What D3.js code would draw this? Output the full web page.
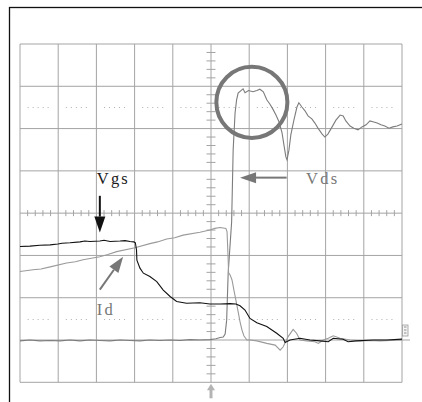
<!DOCTYPE html>
<html><head><meta charset="utf-8">
<script src="https://cdn.jsdelivr.net/npm/d3@7"></script>
<style>body{margin:0;background:#fff}svg{display:block}</style>
</head><body>
<script>
// time in divisions (0..10), value in divisions (-4..4, 0 = centre line)
const vds = [[0,-3.02],[0.26,-3.00],[0.52,-3.02],[0.79,-3.01],[1.05,-3.02],[1.31,-3.00],[1.57,-3.02],[1.83,-3.00],[2.09,-3.01],[2.36,-3.02],[2.62,-3.00],[2.88,-3.01],[3.14,-3.02],[3.40,-3.00],[3.66,-3.01],[3.93,-3.00],[4.19,-3.01],[4.45,-2.99],[4.71,-3.00],[4.97,-2.99],[5.13,-2.97],[5.24,-2.94],[5.32,-2.93],[5.37,-2.86],[5.41,-2.53],[5.45,-1.41],[5.54,-0.21],[5.58,1.49],[5.63,2.37],[5.67,2.68],[5.71,2.84],[5.80,2.91],[5.84,2.94],[5.89,2.85],[5.98,2.90],[6.10,2.87],[6.20,2.90],[6.28,2.93],[6.37,2.87],[6.46,2.68],[6.54,2.58],[6.62,2.46],[6.70,2.32],[6.78,2.16],[6.86,1.90],[6.91,1.61],[6.96,1.33],[6.99,1.26],[7.04,1.49],[7.09,1.85],[7.17,2.20],[7.25,2.51],[7.30,2.61],[7.38,2.51],[7.46,2.42],[7.54,2.30],[7.64,2.23],[7.72,2.13],[7.80,2.01],[7.91,1.87],[7.98,1.80],[8.06,1.87],[8.17,2.04],[8.27,2.20],[8.38,2.32],[8.46,2.30],[8.53,2.18],[8.64,2.06],[8.74,2.01],[8.85,1.97],[8.95,2.04],[9.06,2.09],[9.16,2.18],[9.24,2.16],[9.35,2.13],[9.45,2.09],[9.55,2.06],[9.66,2.01],[9.76,2.04],[9.87,2.06],[10.00,2.11]];
const id = [[0,-1.38],[0.34,-1.34],[0.55,-1.32],[0.79,-1.27],[1.22,-1.18],[1.45,-1.15],[1.65,-1.10],[2.09,-1.03],[2.30,-0.98],[2.53,-0.91],[3.01,-0.82],[3.40,-0.72],[3.60,-0.68],[3.84,-0.61],[4.05,-0.58],[4.27,-0.52],[4.71,-0.45],[4.97,-0.40],[5.10,-0.36],[5.24,-0.34],[5.39,-0.36],[5.42,-0.44],[5.45,-1.11],[5.46,-1.41],[5.50,-1.46],[5.55,-1.58],[5.60,-1.82],[5.65,-2.05],[5.71,-2.33],[5.76,-2.57],[5.81,-2.76],[5.86,-2.90],[5.94,-3.00],[6.02,-3.00],[6.20,-3.02],[6.46,-3.08],[6.68,-3.12],[6.81,-3.24],[6.89,-3.16],[7.02,-2.92],[7.15,-2.75],[7.24,-2.84],[7.33,-3.00],[7.51,-3.02],[7.72,-3.04],[7.81,-3.08],[7.94,-3.00],[8.07,-2.96],[8.20,-2.90],[8.38,-2.96],[8.64,-3.00],[8.90,-3.02],[9.16,-3.01],[9.42,-3.02],[9.69,-3.01],[10.00,-3.00]];
const vgs = [[0,-0.79],[0.26,-0.78],[0.52,-0.76],[0.79,-0.75],[0.99,-0.73],[1.10,-0.71],[1.31,-0.70],[1.57,-0.68],[1.70,-0.66],[1.83,-0.67],[2.09,-0.66],[2.20,-0.64],[2.36,-0.67],[2.62,-0.66],[2.75,-0.65],[2.88,-0.67],[2.98,-0.68],[3.02,-0.70],[3.05,-0.87],[3.06,-1.11],[3.14,-1.30],[3.23,-1.42],[3.40,-1.50],[3.58,-1.62],[3.75,-1.82],[3.93,-1.97],[4.10,-2.09],[4.36,-2.13],[4.71,-2.12],[4.97,-2.15],[5.24,-2.15],[5.50,-2.14],[5.65,-2.15],[5.76,-2.19],[5.89,-2.29],[6.02,-2.49],[6.20,-2.59],[6.46,-2.68],[6.72,-2.84],[6.89,-2.96],[6.94,-3.06],[7.07,-3.00],[7.33,-2.96],[7.59,-3.00],[7.85,-3.02],[8.07,-3.04],[8.20,-2.96],[8.46,-2.98],[8.59,-3.04],[8.81,-3.02],[9.24,-3.00],[9.60,-3.00],[10.00,-2.98]];

const labels = [
  {text:"Vgs", t:2.01, v:0.69, color:"#1a1a1a"},
  {text:"Vds", t:7.49, v:0.69, color:"#777"},
  {text:"Id",  t:2.01, v:-2.41, color:"#777"}
];
const arrows = [
  {from:[2.09,0.41], to:[2.09,-0.46], color:"#111"},
  {from:[6.98,0.84], to:[5.76,0.84], color:"#777"},
  {from:[2.09,-1.81], to:[2.70,-1.03], color:"#777"}
];
const highlight = {t:6.07, v:2.62, r:0.93};

const W = 422, H = 402;
const svg = d3.select("body").append("svg").attr("width", W).attr("height", H);
const x = d3.scaleLinear().domain([0,10]).range([20,402]);
const y = d3.scaleLinear().domain([-4,4]).range([382.3,44]);

// outer frame
svg.append("rect").attr("x",9.5).attr("y",7.5).attr("width",420).attr("height",400)
  .attr("fill","none").attr("stroke","#111").attr("stroke-width",1.3);

const grid = svg.append("g").attr("stroke","#a4a4a4").attr("stroke-width",1);
d3.range(0,11).forEach(k => grid.append("line").attr("x1",x(k)).attr("x2",x(k)).attr("y1",y(4)).attr("y2",y(-4)));
d3.range(-4,5).forEach(k => grid.append("line").attr("x1",x(0)).attr("x2",x(10)).attr("y1",y(k)).attr("y2",y(k)));
// minor ticks on centre axes
d3.range(-4,4.01,0.2).forEach(v => {
  if (Math.abs(v - Math.round(v)) < 1e-6) return;
  grid.append("line").attr("x1",x(5)-4.5).attr("x2",x(5)+4.5).attr("y1",y(v)).attr("y2",y(v));
});
d3.range(0,10.01,0.2).forEach(t => {
  if (Math.abs(t - Math.round(t)) < 1e-6) return;
  grid.append("line").attr("x1",x(t)).attr("x2",x(t)).attr("y1",y(0)-3).attr("y2",y(0)+3);
});
// dotted lines
[2.5,-2.5].forEach(v => {
  d3.range(0,10).forEach(k => {
    grid.append("line").attr("x1",x(k+0.2)).attr("x2",x(k+0.8)).attr("y1",Math.round(y(v))+0.5).attr("y2",Math.round(y(v))+0.5)
      .attr("stroke","#b0b0b0").attr("stroke-dasharray","1,4");
  });
});

// ground marker at right
svg.append("line").attr("x1",x(10)).attr("x2",x(10)+8).attr("y1",y(-3)).attr("y2",y(-3)).attr("stroke","#a4a4a4");
svg.append("rect").attr("x",x(10)+0.5).attr("y",y(-3)-15).attr("width",5.5).attr("height",11)
  .attr("fill","#f4f4f4").attr("stroke","#999").attr("stroke-width",0.8);
svg.append("path").attr("d",`M${x(10)+2},${y(-3)-13}h2.5M${x(10)+2},${y(-3)-10}h2.5M${x(10)+2},${y(-3)-7}h2.5`)
  .attr("stroke","#777").attr("stroke-width",0.8);

// trigger arrow at bottom
svg.append("line").attr("x1",x(5)).attr("x2",x(5)).attr("y1",y(-4)+7).attr("y2",y(-4)+16)
  .attr("stroke","#b4b4b4").attr("stroke-width",3);
svg.append("path").attr("d",`M${x(5)},${y(-4)+1.5}L${x(5)-4},${y(-4)+8}L${x(5)+4},${y(-4)+8}Z`).attr("fill","#b4b4b4");

const line = d3.line().x(d => x(d[0])).y(d => y(d[1]));
svg.append("path").datum(vds).attr("d",line).attr("fill","none").attr("stroke","#7c7c7c").attr("stroke-width",1.1);
svg.append("path").datum(id).attr("d",line).attr("fill","none").attr("stroke","#9a9a9a").attr("stroke-width",1.1);
svg.append("path").datum(vgs).attr("d",line).attr("fill","none").attr("stroke","#111").attr("stroke-width",1.1);

// highlight circle
svg.append("circle").attr("cx",x(highlight.t)).attr("cy",y(highlight.v))
  .attr("r",x(highlight.r)-x(0)).attr("fill","none").attr("stroke","#777").attr("stroke-width",4);

// arrows
arrows.forEach(a => {
  const x1 = x(a.from[0]), y1 = y(a.from[1]), x2 = x(a.to[0]), y2 = y(a.to[1]);
  const ang = Math.atan2(y2-y1, x2-x1), L = 16, w = 5.5;
  const bx = x2 - L*Math.cos(ang), by = y2 - L*Math.sin(ang);
  svg.append("line").attr("x1",x1).attr("y1",y1).attr("x2",bx).attr("y2",by)
    .attr("stroke",a.color).attr("stroke-width",2);
  const px = -Math.sin(ang)*w, py = Math.cos(ang)*w;
  svg.append("path").attr("d",`M${x2},${y2}L${bx+px},${by+py}L${bx-px},${by-py}Z`).attr("fill",a.color);
});

// labels
labels.forEach(l => {
  svg.append("text").attr("x",x(l.t)).attr("y",y(l.v)).text(l.text)
    .attr("font-family","'Liberation Serif','Times New Roman',serif").attr("font-size",16.5)
    .attr("letter-spacing",2.2).attr("fill",l.color);
});
</script>
</body></html>
